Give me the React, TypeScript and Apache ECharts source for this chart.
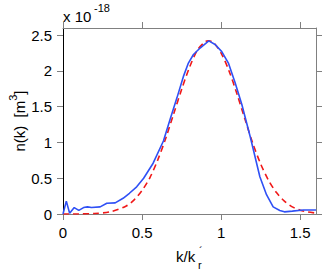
import React, { useEffect, useRef } from "react";
import * as echarts from "echarts";

// Blue: measured n(k)
const blueX = [0, 0.021, 0.042, 0.071, 0.1, 0.13, 0.155, 0.18, 0.235, 0.277, 0.33, 0.38, 0.42, 0.466, 0.51, 0.57, 0.635, 0.677, 0.72, 0.761, 0.793, 0.825, 0.867, 0.922, 0.962, 1.004, 1.046, 1.089, 1.131, 1.184, 1.245, 1.287, 1.329, 1.371, 1.4, 1.45, 1.52, 1.6];
const blueY = [0, 0.18, 0.01, 0.09, 0.05, 0.09, 0.1, 0.09, 0.1, 0.15, 0.155, 0.22, 0.29, 0.38, 0.5, 0.71, 1.02, 1.32, 1.62, 1.92, 2.11, 2.23, 2.32, 2.42, 2.37, 2.27, 2.11, 1.83, 1.53, 1.08, 0.52, 0.27, 0.1, 0.05, 0.03, 0.04, 0.055, 0.055];

// Red dashed: fitted n(k)
const redX = [0, 0.1, 0.2, 0.3, 0.4, 0.45, 0.5, 0.55, 0.6, 0.65, 0.7, 0.75, 0.8, 0.85, 0.9, 0.92, 0.95, 1.0, 1.05, 1.1, 1.15, 1.2, 1.25, 1.3, 1.35, 1.4, 1.45, 1.5, 1.55, 1.6];
const redY = [0, 0.001, 0.007, 0.031, 0.113, 0.198, 0.33, 0.51, 0.76, 1.06, 1.4, 1.74, 2.05, 2.29, 2.41, 2.42, 2.4, 2.25, 2.0, 1.68, 1.33, 0.99, 0.7, 0.47, 0.3, 0.18, 0.1, 0.054, 0.027, 0.013];

const xTicks = [0, 0.5, 1, 1.5];
const yTicks = [0, 0.5, 1, 1.5, 2, 2.5];

const FONT = "Liberation Sans, Arial, Helvetica, sans-serif";
const GRAY = "#808080";

export default function App() {
  const ref = useRef<HTMLDivElement>(null);
  useEffect(() => {
    document.body.style.margin = "0";
    const chart = echarts.init(ref.current!, null, { renderer: "svg" });
    const blue = blueX.map((x, i) => [x, blueY[i]]);
    const red = redX.map((x, i) => [x, redY[i]]);
    const fmt = (v: number) => String(v);
    const baseX = {
      type: "value" as const,
      min: 0,
      max: 1.6,
      splitLine: { show: false },
    };
    const baseY = {
      type: "value" as const,
      min: 0,
      max: 2.6,
      splitLine: { show: false },
    };
    chart.setOption({
      animation: false,
      grid: { left: 63, right: 11, top: 28, bottom: 59, containLabel: false },
      xAxis: [
        {
          ...baseX,
          position: "bottom",
          axisLine: { lineStyle: { color: GRAY, width: 1 } },
          axisTick: { customValues: xTicks, length: 6, inside: false, lineStyle: { color: GRAY } },
          axisLabel: { customValues: xTicks, formatter: fmt, color: "#000", fontSize: 15, fontFamily: FONT, margin: 11 },
        },
        {
          ...baseX,
          position: "top",
          axisLine: { onZero: false, lineStyle: { color: GRAY, width: 1 } },
          axisTick: { customValues: xTicks, length: 6, inside: false, lineStyle: { color: GRAY } },
          axisLabel: { show: false },
        },
      ],
      yAxis: [
        {
          ...baseY,
          position: "left",
          axisLine: { show: true, onZero: false, lineStyle: { color: "#000", width: 1 } },
          axisTick: { show: true, customValues: yTicks, length: 6, inside: false, lineStyle: { color: GRAY } },
          axisLabel: { customValues: yTicks, formatter: fmt, color: "#000", fontSize: 15, fontFamily: FONT, margin: 11 },
        },
        {
          ...baseY,
          position: "right",
          axisLine: { show: true, onZero: false, lineStyle: { color: GRAY, width: 1 } },
          axisTick: { show: true, customValues: yTicks, length: 6, inside: false, lineStyle: { color: GRAY } },
          axisLabel: { show: false },
        },
      ],
      series: [
        {
          type: "line",
          data: red,
          xAxisIndex: 0,
          yAxisIndex: 0,
          showSymbol: false,
          smooth: 0.3,
          lineStyle: { color: "#f01818", width: 1.6, type: [6, 4] },
          z: 2,
        },
        {
          type: "line",
          data: blue,
          xAxisIndex: 0,
          yAxisIndex: 0,
          showSymbol: false,
          lineStyle: { color: "#2f50f5", width: 1.6 },
          z: 3,
        },
      ],
      graphic: [
        {
          type: "text",
          left: 63,
          top: 9,
          style: { text: "x 10", fontSize: 15, fontFamily: FONT, fill: "#000" },
        },
        {
          type: "text",
          left: 94,
          top: 2,
          style: { text: "-18", fontSize: 11, fontFamily: FONT, fill: "#000" },
        },
        {
          type: "text",
          x: 17,
          y: 121,
          rotation: Math.PI / 2,
          style: {
            text: "{a|n(k)  [m}{b|3}{a|]}",
            align: "center",
            verticalAlign: "middle",
            fontFamily: FONT,
            fill: "#000",
            rich: {
              a: { fontSize: 15, fontFamily: FONT, lineHeight: 19, verticalAlign: "bottom" },
              b: { fontSize: 11, fontFamily: FONT, lineHeight: 19, verticalAlign: "top" },
            },
          },
        },
        {
          type: "text",
          left: 176,
          top: 249,
          style: { text: "k/k", fontSize: 15, fontFamily: FONT, fill: "#000" },
        },
        {
          type: "text",
          left: 198,
          top: 259,
          style: { text: "r", fontSize: 11, fontFamily: FONT, fill: "#000" },
        },
        {
          type: "text",
          left: 199,
          top: 245,
          style: { text: "´", fontSize: 11, fontFamily: FONT, fill: "#000" },
        },
      ],
    });
    return () => chart.dispose();
  }, []);
  return <div ref={ref} style={{ width: 327, height: 273 }} />;
}
